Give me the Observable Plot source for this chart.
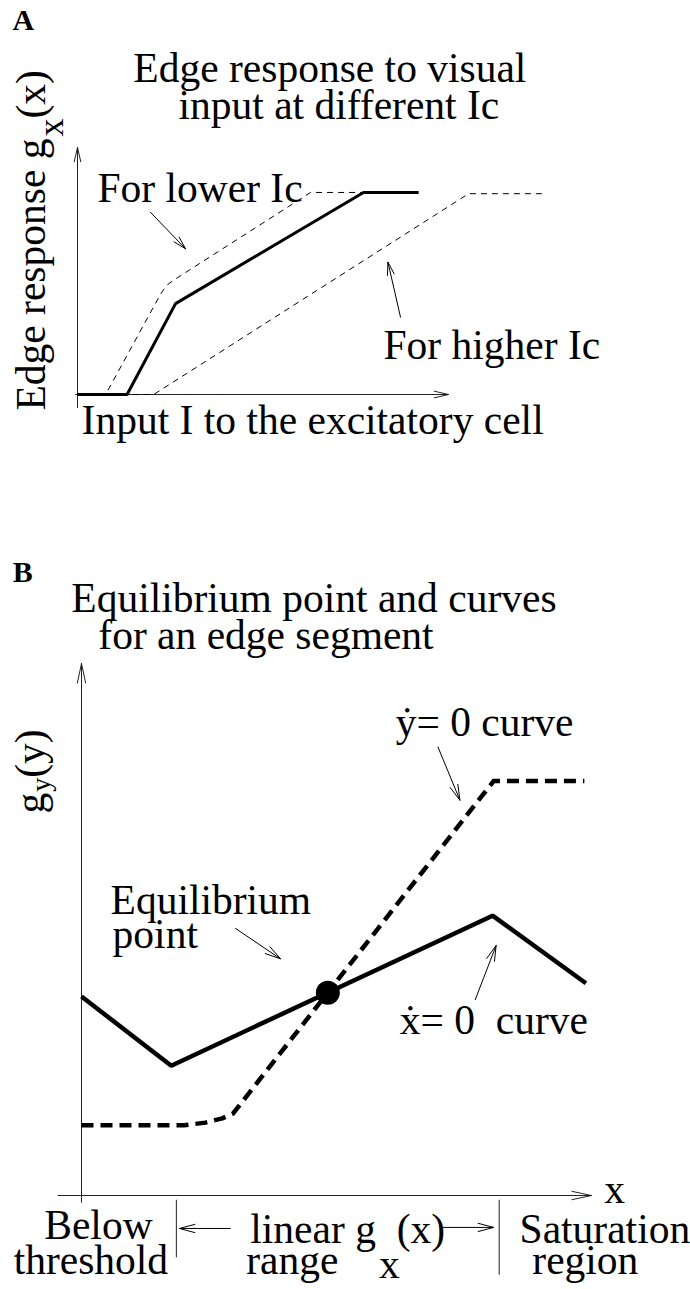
<!DOCTYPE html>
<html>
<head>
<meta charset="utf-8">
<script src="https://cdn.jsdelivr.net/npm/d3@7"></script>
<script src="https://cdn.jsdelivr.net/npm/@observablehq/plot@0.6"></script>
<style>
  html, body { margin: 0; padding: 0; background: #fff; }
  #chart { width: 690px; }
  #chart svg { display: block; }
</style>
</head>
<body>
<div id="chart"></div>
<script>
const FONT = "Liberation Serif, Times New Roman, serif";
const FS = 41.5;

// ---------- Panel A : edge response g_x(x) versus input I ----------
const responseMid    = [[0, 0], [1.34, 0], [2.65, 3.68], [7.73, 8.18], [9.22, 8.18]];
const responseLowIc  = [[0, 0], [0.76, 0], [2.24, 4.05], [2.34, 4.27], [2.45, 4.47], [2.65, 4.68], [6.30, 8.18], [7.73, 8.18]];
const responseHighIc = [[0, 0], [2.06, 0], [10.57, 8.13], [12.59, 8.13]];
const axesA = [
  {x1: -0.05, y1: 0, x2: 10.03, y2: 0},
  {x1: 0, y1: -0.53, x2: 0, y2: 10}
];
const pointersA = [
  {x1: 1.97, y1: 7.38, x2: 2.92, y2: 5.90},
  {x1: 8.73, y1: 3.13, x2: 8.39, y2: 5.36}
];
const textsA = [
  {t: "Edge response to visual", x: 1.51, y: 12.67},
  {t: "input at different Ic", x: 2.73, y: 11.17},
  {t: "For lower Ic", x: 0.54, y: 7.79},
  {t: "For higher Ic", x: 8.27, y: 1.42},
  {t: "Input I to the excitatory cell", x: 0.11, y: -1.58}
];
const yLabelA = [{t: "Edge response g_x(x)", x: -0.89, y: -0.65}];
const tagA = [{t: "A", x: -1.76, y: 14.74}];

// ---------- Panel B : nullclines and equilibrium point ----------
const xNullcline = [[0, 3.74], [1.76, 2.44], [8.06, 5.26], [9.89, 3.99]];
const yNullcline = [[0, 1.32], [2.01, 1.32], [2.43, 1.37], [2.76, 1.45], [2.97, 1.54], [8.08, 7.79], [9.86, 7.79]];
const equilibrium = [[4.83, 3.81]];
const axesB = [
  {x1: 0, y1: -0.13, x2: 0, y2: 10},
  {x1: -0.46, y1: 0, x2: 10, y2: 0}
];
const pointersB = [
  {x1: 3.02, y1: 5.02, x2: 3.90, y2: 4.45},
  {x1: 6.99, y1: 8.43, x2: 7.42, y2: 7.43},
  {x1: 7.72, y1: 3.68, x2: 8.13, y2: 4.70},
  {x1: 2.92, y1: -0.62, x2: 1.92, y2: -0.62},
  {x1: 7.09, y1: -0.60, x2: 8.08, y2: -0.60}
];
const rangeBounds = [
  {x: 1.86, y1: -0.09, y2: -1.17},
  {x: 8.19, y1: -0.09, y2: -1.50}
];
const textsB = [
  {t: "Equilibrium point and curves", x: -0.20, y: 10.96},
  {t: "for an edge segment", x: 0.33, y: 10.28},
  {t: "\u1E8F= 0 curve", x: 6.16, y: 8.63},
  {t: "Equilibrium", x: 0.57, y: 5.30},
  {t: "point", x: 0.61, y: 4.66},
  {t: "\u1E8B= 0\u00a0\u00a0curve", x: 6.24, y: 3.04},
  {t: "x", x: 10.25, y: -0.15},
  {t: "Below", x: -0.73, y: -0.81},
  {t: "threshold", x: -1.33, y: -1.47},
  {t: "linear g_x(x)", x: 3.31, y: -0.90},
  {t: "range", x: 3.23, y: -1.47},
  {t: "Saturation", x: 8.59, y: -0.90},
  {t: "region", x: 8.84, y: -1.47}
];
const yLabelB = [{t: "g_y(y)", x: -0.73, y: 7.18}];
const tagB = [{t: "B", x: -1.35, y: 11.54}];

// subscript rendering (size, baseline shift, offsets)
const subStyle = {
  "Edge response g_x(x)": {size: 36, shift: 18, dx: 2, dx2: 0},
  "g_y(y)": {size: 28, shift: 6, dx: 1, dx2: 0},
  "linear g_x(x)": {size: FS, shift: 35, dx: 3, dx2: -3}
};

const P = d => d[0], Q = d => d[1];
const txt = {x: "x", y: "y", text: "t", textAnchor: "start", lineAnchor: "bottom",
             fontSize: FS, fontFamily: FONT, fill: "black"};

const plotA = Plot.plot({
  width: 690, height: 460, margin: 0,
  x: {domain: [0, 10], range: [77, 447], axis: null},
  y: {domain: [0, 10], range: [394, 147], axis: null},
  style: {fontFamily: FONT, background: "white", overflow: "visible"},
  marks: [
    Plot.arrow(axesA, {x1: "x1", y1: "y1", x2: "x2", y2: "y2", stroke: "#222", strokeWidth: 1, headAngle: 26, headLength: 22}),
    Plot.line(responseLowIc, {x: P, y: Q, stroke: "black", strokeWidth: 1, strokeDasharray: "6,5", strokeLinecap: "butt"}),
    Plot.line(responseHighIc, {x: P, y: Q, stroke: "black", strokeWidth: 1, strokeDasharray: "6,5", strokeLinecap: "butt"}),
    Plot.line(responseMid, {x: P, y: Q, stroke: "black", strokeWidth: 3, strokeLinejoin: "miter", strokeLinecap: "butt"}),
    Plot.arrow(pointersA, {x1: "x1", y1: "y1", x2: "x2", y2: "y2", stroke: "black", strokeWidth: 1, headAngle: 30, headLength: 20}),
    Plot.text(textsA, txt),
    Plot.text(yLabelA, {...txt, rotate: -90}),
    Plot.text(tagA, {...txt, fontSize: 30, fontWeight: "bold"})
  ]
});

const plotB = Plot.plot({
  width: 690, height: 829, margin: 0,
  x: {domain: [0, 10], range: [81, 591], axis: null},
  y: {domain: [0, 10], range: [735, 203], axis: null},
  style: {fontFamily: FONT, background: "white", overflow: "visible"},
  marks: [
    Plot.arrow(axesB, {x1: "x1", y1: "y1", x2: "x2", y2: "y2", stroke: "#222", strokeWidth: 1, headAngle: 24, headLength: 30}),
    Plot.ruleX(rangeBounds, {x: "x", y1: "y1", y2: "y2", stroke: "#222", strokeWidth: 1}),
    Plot.line(yNullcline, {x: P, y: Q, stroke: "black", strokeWidth: 4.5, strokeDasharray: "12,7", strokeLinecap: "butt", strokeLinejoin: "round"}),
    Plot.line(xNullcline, {x: P, y: Q, stroke: "black", strokeWidth: 4.5, strokeLinejoin: "miter", strokeLinecap: "butt"}),
    Plot.dot(equilibrium, {x: P, y: Q, r: 12, fill: "black", stroke: "none"}),
    Plot.arrow(pointersB, {x1: "x1", y1: "y1", x2: "x2", y2: "y2", stroke: "black", strokeWidth: 1, headAngle: 30, headLength: 24}),
    Plot.text(textsB, txt),
    Plot.text(yLabelB, {...txt, rotate: -90}),
    Plot.text(tagB, {...txt, fontSize: 30, fontWeight: "bold"})
  ]
});

function subscripts(svg) {
  d3.select(svg).selectAll("text").each(function () {
    const t = this.textContent;
    const i = t.indexOf("_");
    if (i < 0) return;
    const o = subStyle[t] || {size: 30, shift: 10, dx: 0, dx2: 0};
    const sel = d3.select(this);
    sel.text(null);
    sel.append("tspan").text(t.slice(0, i));
    sel.append("tspan").attr("dx", o.dx).attr("dy", o.shift).attr("font-size", o.size).text(t[i + 1]);
    sel.append("tspan").attr("dx", o.dx2).attr("dy", -o.shift).text(t.slice(i + 2));
  });
}
subscripts(plotA);
subscripts(plotB);

document.getElementById("chart").append(plotA, plotB);
</script>
</body>
</html>
